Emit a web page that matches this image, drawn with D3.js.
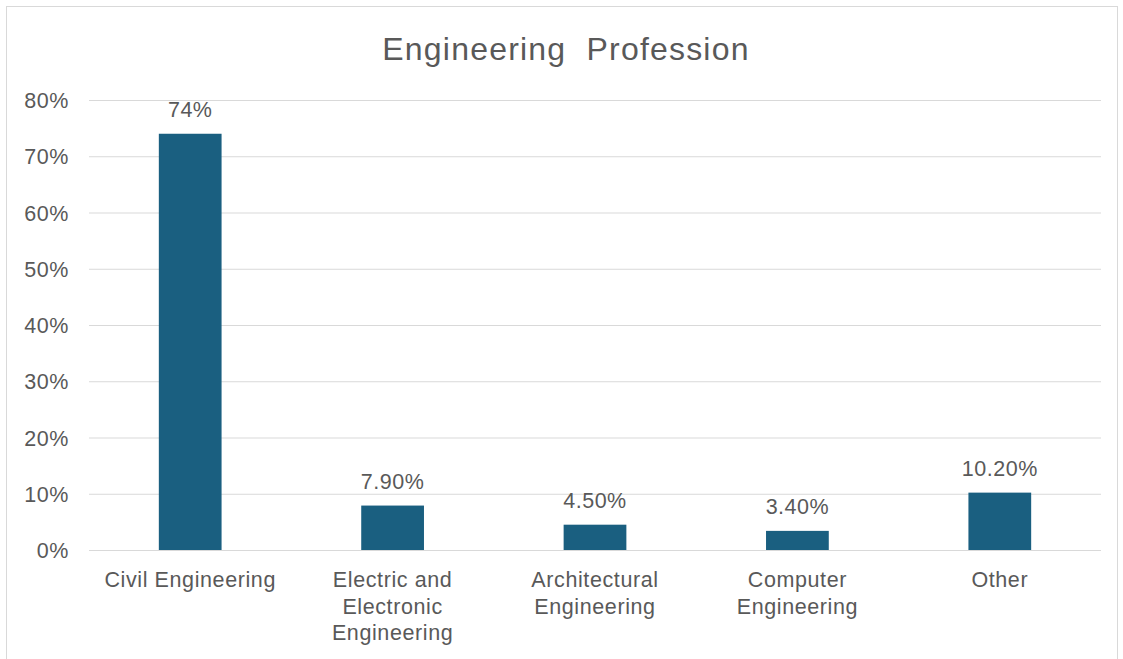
<!DOCTYPE html>
<html>
<head>
<meta charset="utf-8">
<script src="https://cdn.jsdelivr.net/npm/d3@7"></script>
<style>
  body { margin: 0; background: #fff; }
  svg { display: block; font-family: "Liberation Sans", Arial, sans-serif; }
</style>
</head>
<body>
<div id="chart"></div>
<script>
// data
var categories = [
  ["Civil Engineering"],
  ["Electric and", "Electronic", "Engineering"],
  ["Architectural", "Engineering"],
  ["Computer", "Engineering"],
  ["Other"]
];
var values = [0.74, 0.079, 0.045, 0.034, 0.102];
var valueLabels = ["74%", "7.90%", "4.50%", "3.40%", "10.20%"];
var yTicks = [0, 0.1, 0.2, 0.3, 0.4, 0.5, 0.6, 0.7, 0.8];

var svg_width = 1123;
var svg_height = 659;
var margin = {top: 100, right: 22, bottom: 109, left: 89};
var width = svg_width - margin.left - margin.right;
var height = svg_height - margin.top - margin.bottom;
var textColor = "#595959";

var svg = d3.select("#chart")
  .append("svg")
  .attr("width", svg_width)
  .attr("height", svg_height);

// chart area border
svg.append("rect")
  .attr("x", 6.5)
  .attr("y", 6.5)
  .attr("width", 1111)
  .attr("height", 700)
  .attr("fill", "none")
  .attr("stroke", "#d9d9d9");

svg.append("text")
  .attr("x", 566)
  .attr("y", 60)
  .attr("text-anchor", "middle")
  .attr("fill", textColor)
  .style("font-size", "32px")
  .style("letter-spacing", "1.2px")
  .style("white-space", "pre")
  .text("Engineering  Profession");

var g = svg.append("g")
  .attr("transform", "translate(" + margin.left + "," + margin.top + ")");

var x = d3.scaleBand()
  .domain(d3.range(categories.length))
  .range([0, width])
  .paddingInner(0.69)
  .paddingOuter(0.345);

var y = d3.scaleLinear()
  .domain([0, 0.8])
  .range([height, 0]);

// gridlines + y labels
var yAxis = d3.axisLeft(y)
  .tickValues(yTicks)
  .tickSize(-width)
  .tickPadding(20)
  .tickFormat(d3.format(".0%"));

var ya = g.append("g").call(yAxis);
ya.select(".domain").remove();
ya.selectAll(".tick line").attr("stroke", "#d9d9d9").attr("stroke-width", 1);
ya.selectAll(".tick text")
  .attr("fill", textColor)
  .attr("dy", "0.35em")
  .style("font-size", "21.5px")
  .style("letter-spacing", "0.6px")
  .style("font-family", "Liberation Sans, Arial, sans-serif");

// bars
g.selectAll(".bar")
  .data(values)
  .enter()
  .append("rect")
  .attr("class", "bar")
  .attr("x", function(d, i) { return x(i); })
  .attr("y", function(d) { return y(d); })
  .attr("width", x.bandwidth())
  .attr("height", function(d) { return height - y(d); })
  .attr("fill", "#1a5f80");

// value labels
g.selectAll(".vlabel")
  .data(values)
  .enter()
  .append("text")
  .attr("class", "vlabel")
  .attr("x", function(d, i) { return x(i) + x.bandwidth() / 2; })
  .attr("y", function(d) { return y(d) - 17; })
  .attr("text-anchor", "middle")
  .attr("fill", textColor)
  .style("font-size", "21.5px")
  .style("letter-spacing", "0.5px")
  .text(function(d, i) { return valueLabels[i]; });

// category labels
var cat = g.selectAll(".cat")
  .data(categories)
  .enter()
  .append("text")
  .attr("class", "cat")
  .attr("x", function(d, i) { return x(i) + x.bandwidth() / 2; })
  .attr("y", height + 37)
  .attr("text-anchor", "middle")
  .attr("fill", textColor)
  .style("font-size", "21.5px")
  .style("letter-spacing", "0.6px");

cat.selectAll("tspan")
  .data(function(d) { return d; })
  .enter()
  .append("tspan")
  .attr("x", function() { return d3.select(this.parentNode).attr("x"); })
  .attr("dy", function(d, i) { return i === 0 ? 0 : 26.7; })
  .text(function(d) { return d; });
</script>
</body>
</html>
